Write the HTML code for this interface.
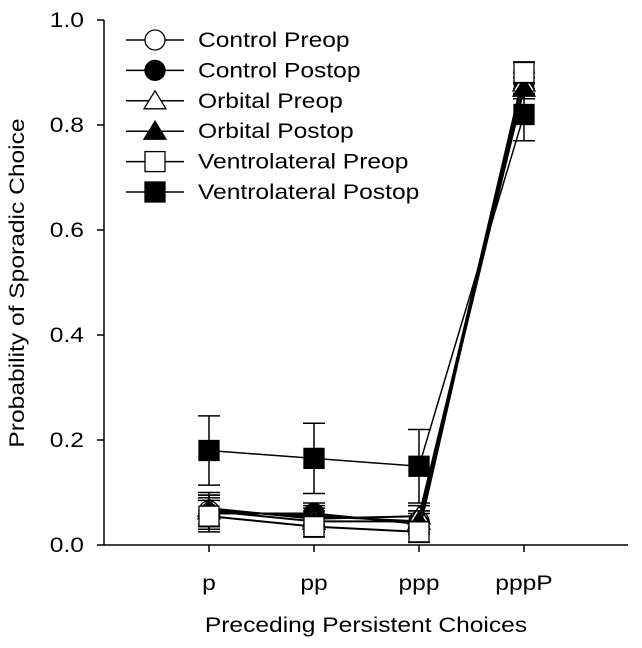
<!DOCTYPE html>
<html><head><meta charset="utf-8"><style>
body{margin:0;background:#fff}
svg text{font-family:"Liberation Sans",Arial,sans-serif;fill:#000}
</style></head><body>
<svg id="chart" width="642" height="643" viewBox="0 0 642 643" xmlns="http://www.w3.org/2000/svg">
<g id="axes"></g>
<g id="series"></g>
<g id="legend"></g>
<text class="st" transform="translate(24,283) rotate(-90)" text-anchor="middle" font-size="21">Probability of Sporadic Choice</text>
<text class="st" x="366" y="632" text-anchor="middle" font-size="21">Preceding Persistent Choices</text>
</svg>
<script>
const categories=["p","pp","ppp","pppP"];
const yTicks=[0,0.2,0.4,0.6,0.8,1.0];
const yTickLabels=["0.0","0.2","0.4","0.6","0.8","1.0"];
const seriesNames=["Control Preop","Control Postop","Orbital Preop","Orbital Postop","Ventrolateral Preop","Ventrolateral Postop"];
const controlPre=[0.065,0.055,0.045,0.90];
const controlPost=[0.06,0.06,0.04,0.88];
const orbitalPre=[0.07,0.05,0.055,0.88];
const orbitalPost=[0.065,0.045,0.045,0.87];
const vlPre=[0.055,0.035,0.025,0.90];
const vlPost=[0.18,0.165,0.15,0.82];
const vlPostErr=[0.066,0.067,0.07,0.05];
const otherErr=[0.03,0.02,0.02,0.02];
const NS="http://www.w3.org/2000/svg";
const X0=104,XS=105,Y0=545,YS=525;
const xs=i=>X0+XS*(i+1), ys=v=>Y0-YS*v;
function mk(p,t,a){const e=document.createElementNS(NS,t);for(const k in a)e.setAttribute(k,a[k]);p.appendChild(e);return e;}
const ax=document.getElementById('axes');
let l=mk(ax,'line',{x1:X0,y1:20,x2:X0,y2:Y0,stroke:'#000','stroke-width':1.5});


l=mk(ax,'line',{x1:X0,y1:Y0,x2:628,y2:Y0,stroke:'#000','stroke-width':1.5});


yTicks.forEach((v,i)=>{
 const t=mk(ax,'line',{x1:X0-7,y1:ys(v),x2:X0,y2:ys(v),stroke:'#000','stroke-width':1.5});
 
 
 const tx=mk(ax,'text',{x:X0-20,y:ys(v)+7,'text-anchor':'end','font-size':21,class:'st'});
 tx.textContent=yTickLabels[i];
 
 
});
categories.forEach((c,i)=>{
 const t=mk(ax,'line',{x1:xs(i),y1:Y0,x2:xs(i),y2:Y0+7,stroke:'#000','stroke-width':1.5});
 
 
 const tx=mk(ax,'text',{x:xs(i),y:Y0+45,'text-anchor':'middle','font-size':21,class:'st'});
 tx.textContent=c;
 
 
});
function marker(g,type,x,y){
 const fill=type.endsWith('f')?'#000':'#fff';const s=type[0];let e;
 if(s==='c')e=mk(g,'circle',{cx:x,cy:y,r:10,fill,stroke:'#000','stroke-width':1.3});
 else if(s==='t')e=mk(g,'polygon',{points:`${x},${y-10} ${x+11},${y+8} ${x-11},${y+8}`,fill,stroke:'#000','stroke-width':1.3});
 else e=mk(g,'rect',{x:x-10,y:y-10,width:20,height:20,fill,stroke:'#000','stroke-width':1.3});
 return e;
}
const types=["co","cf","to","tf","so","sf"];
const data=[controlPre,controlPost,orbitalPre,orbitalPost,vlPre,vlPost];
const errs=[otherErr,otherErr,otherErr,otherErr,otherErr,vlPostErr];
const sg=document.getElementById('series');
[5,0,1,2,3,4].forEach(k=>{
 const g=mk(sg,'g',{});
 
 
 const d=data[k];
 const pl=mk(g,'polyline',{points:d.map((v,i)=>xs(i)+','+ys(v)).join(' '),fill:'none',stroke:'#000','stroke-width':k===5?1.5:2});
 
 
 d.forEach((v,i)=>{
  const e=errs[k][i],x=xs(i);
  const eb=mk(g,'path',{d:`M${x},${ys(v+e)}V${ys(v-e)}M${x-11},${ys(v+e)}h22M${x-11},${ys(v-e)}h22`,stroke:'#000','stroke-width':1.5,fill:'none'});
  
  
 });
 d.forEach((v,i)=>{
  const m=marker(g,types[k],xs(i),ys(v));
  
  
 });
});
const lg=document.getElementById('legend');
seriesNames.forEach((n,k)=>{
 const y=40+30.4*k;
 const g=mk(lg,'g',{});
 
 
 mk(g,'line',{x1:126,y1:y,x2:184,y2:y,stroke:'#000','stroke-width':1.5});
 marker(g,types[k],155,y);
 const t=mk(g,'text',{x:198,y:y+7,'font-size':21,class:'st'});
 t.textContent=n;
});
document.querySelectorAll('text.st').forEach(t=>{
 const w=t.getComputedTextLength();
 t.setAttribute('textLength',(w*1.17).toFixed(1));
 t.setAttribute('lengthAdjust','spacingAndGlyphs');
});
</script>
</body></html>
